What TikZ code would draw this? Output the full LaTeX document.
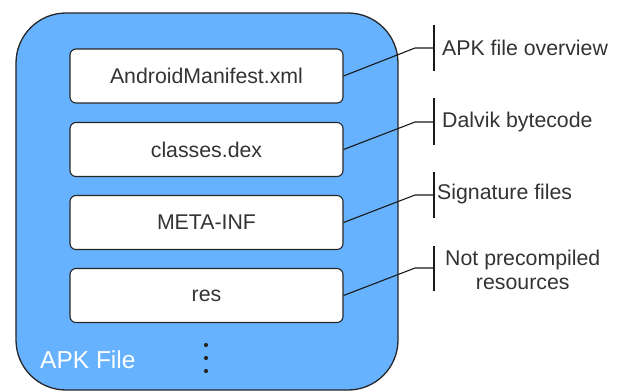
\documentclass[tikz,border=0pt]{standalone}
\usepackage{fontspec}
\setmainfont{Liberation Sans}
\definecolor{apkblue}{HTML}{66B2FF}
\definecolor{txtgray}{HTML}{333333}
\begin{document}
\begin{tikzpicture}[x=1bp,y=-1bp,
  part/.style={draw=black!85,fill=white,rounded corners=6bp,line width=1.1bp,
    minimum width=273bp,minimum height=54bp,inner sep=0,text=txtgray,
    font=\fontsize{21.3bp}{24bp}\selectfont},
  note/.style={anchor=west,inner sep=0,text=txtgray,align=center,
    font=\fontsize{21.3bp}{24bp}\selectfont},
  link/.style={draw=black!90,line width=1.1bp}]
\useasboundingbox (0,0) rectangle (621,391);

% outer APK container
\node[draw=black!85,fill=apkblue,rounded corners=50bp,line width=1.3bp,
  minimum width=382bp,minimum height=377bp,inner sep=0] (apk) at (207,201.5) {};
\node[anchor=base west,inner sep=0,text=white,font=\fontsize{24.5bp}{28bp}\selectfont]
  (apklabel) at (40,368) {APK File};

% contents
\node[part] (manifest) at (206.5,76) {AndroidManifest.xml};
\node[part] (dex) at (206.5,149.5) {classes.dex};
\node[part] (meta) at (206.5,222.5) {META-INF};
\node[part] (res) at (206.5,295.5) {res};

% ellipsis dots
\foreach \y/\n in {345/d1,358/d2,371/d3}
  \fill[black!85] (206,\y) circle (2.1bp) coordinate (\n);

% annotation brackets
\foreach \src/\y/\t/\b/\n in {manifest/48/25/71/a1, dex/122/98/145/a2,
    meta/195/172/218/a3, res/268/246/291/a4}{
  \coordinate (\n k) at (415,\y);
  \coordinate (\n b) at (434,\y);
  \coordinate (\n t) at (434,\t);
  \coordinate (\n u) at (434,\b);
  \draw[link] (\src.east) -- (\n k) -- (\n b);
  \draw[link] (\n t) -- (\n u);
}

\node[note] (n1) at (442,48) {APK file overview};
\node[note] (n2) at (442,122) {Dalvik bytecode};
\node[note] (n3) at (437,194) {Signature files};
\node[note] (n4) at (445,270) {Not precompiled\\resources};
\end{tikzpicture}
\end{document}
